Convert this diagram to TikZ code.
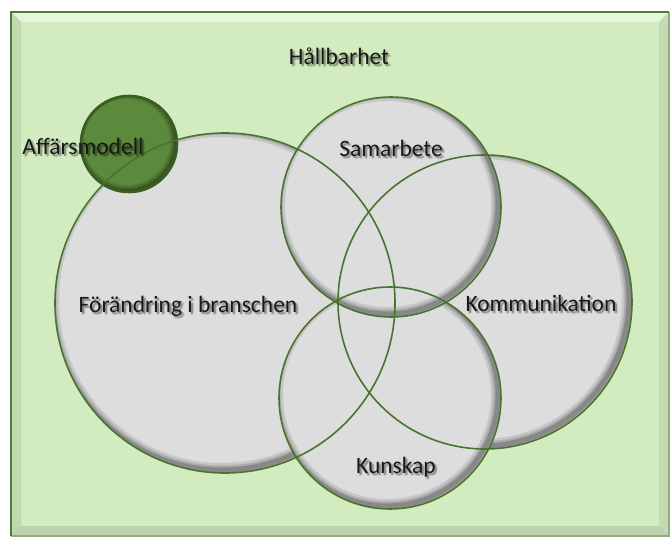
\documentclass[tikz,border=0pt]{standalone}
\usepackage{fontspec}
\setmainfont{Carlito}
\definecolor{panel}{RGB}{210,236,192}
\definecolor{panelhi}{RGB}{229,247,215}
\definecolor{panelleft}{RGB}{190,218,174}
\definecolor{panellow}{RGB}{182,204,168}
\definecolor{panelrim}{RGB}{82,122,60}
\definecolor{panelrimlow}{RGB}{150,170,138}
\definecolor{discfill}{RGB}{222,221,221}
\definecolor{discline}{RGB}{72,116,46}
\definecolor{modelfill}{RGB}{92,138,60}
\definecolor{modelrim}{RGB}{56,94,34}
\definecolor{ink}{RGB}{24,24,24}
\tikzset{
  lbl/.style={font=\fontsize{23.5}{28}\selectfont, text=ink, inner sep=0pt, anchor=base},
  lblshadow/.style={lbl, text=black, opacity=0.10},
  ring/.style={draw=discline, line width=1.6pt},
}
% grey disc with a bevelled rim, darker towards the lower right
\newcommand\discbody[3]{%
  \fill[#3] (#1) circle[radius=#2pt];
  \begin{scope}
    \clip (#1) circle[radius=#2pt];
    \foreach \w/\o in {14/0.10, 9/0.14, 5/0.20}
      \draw[black, opacity=\o, line width=\w pt] ([shift={(-3,-3)}]#1) circle[radius=#2pt];
  \end{scope}}
% label with a soft drop shadow
\newcommand\softlabel[3]{%
  \foreach \dx/\dy in {1/2, 2/3, 3/2, 2/1, 2/2}
    \node[lblshadow] at ([shift={(\dx,\dy)}]#2) {#3};
  \node[lbl] (#1) at (#2) {#3};}
\begin{document}
\begin{tikzpicture}[x=1pt,y=-1pt]
\useasboundingbox (0,0) rectangle (670,540);
\fill[white] (0,0) rectangle (670,540);

% framed green panel with bevelled edges
\fill[panel] (11,12) rectangle (669,536);
\fill[panelhi] (11,12) -- (669,12) -- (659,22) -- (21,22) -- cycle;
\fill[panelleft] (11,12) -- (21,22) -- (21,526) -- (11,536) -- cycle;
\fill[panellow, opacity=0.8] (11,536) -- (21,526) -- (659,526) -- (669,536) -- cycle;
\fill[panellow, opacity=0.5] (669,12) -- (659,22) -- (659,526) -- (669,536) -- cycle;
\draw[panelrimlow, line width=1.5pt] (669,12) -- (669,536) -- (11,536);
\draw[panelrim, line width=2pt] (11,536) -- (11,12) -- (669,12);

% circle centres
\coordinate (chg) at (225,303);
\coordinate (com) at (485,302);
\coordinate (kno) at (390,398);
\coordinate (col) at (391,207);
\coordinate (biz) at (129,144);

% disc bodies, back to front
\discbody{chg}{170}{discfill}
\discbody{com}{147}{discfill}
\discbody{kno}{111}{discfill}
\discbody{col}{110}{discfill}

% business model disc
\fill[modelfill] (biz) circle[radius=49pt];
\begin{scope}
  \clip (biz) circle[radius=49pt];
  \foreach \w/\o in {12/0.10, 8/0.14, 4/0.20}
    \draw[black, opacity=\o, line width=\w pt] ([shift={(-2,-2)}]biz) circle[radius=49pt];
\end{scope}
\draw[modelrim, line width=2.6pt] (biz) circle[radius=48pt];

% all outlines on top
\draw[ring] (chg) circle[radius=170pt];
\draw[ring] (com) circle[radius=147pt];
\draw[ring] (kno) circle[radius=111pt];
\draw[ring] (col) circle[radius=110pt];

% labels
\coordinate (p-top) at (339,65);
\coordinate (p-biz) at (83,155);
\coordinate (p-col) at (391,157);
\coordinate (p-chg) at (188,313);
\coordinate (p-com) at (541,312);
\coordinate (p-kno) at (396,473);
\softlabel{t-top}{p-top}{Hållbarhet}
\softlabel{t-biz}{p-biz}{Affärsmodell}
\softlabel{t-col}{p-col}{Samarbete}
\softlabel{t-chg}{p-chg}{Förändring i branschen}
\softlabel{t-com}{p-com}{Kommunikation}
\softlabel{t-kno}{p-kno}{Kunskap}
\end{tikzpicture}
\end{document}
